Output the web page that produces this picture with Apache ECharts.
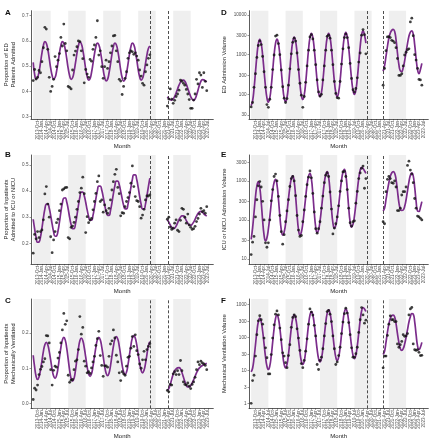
<!DOCTYPE html>
<html><head><meta charset="utf-8">
<script src="https://cdn.jsdelivr.net/npm/echarts@6/dist/echarts.min.js"></script>
<style>html,body{margin:0;padding:0;background:#fff}#c{width:433px;height:440px}</style>
</head><body><div id="c"></div>
<script>
// ---- x axis: month categories (index 0 = 2013-Jul) ----
const monthNames = ['Jan','Feb','Mar','Apr','May','Jun','Jul','Aug','Sep','Oct','Nov','Dec'];
const months = [];
for (let y = 2013; y <= 2023; y++) for (let m = 0; m < 12; m++) { if (y === 2013 && m < 6) continue; months.push(y + '-' + monthNames[m]); }
const xTicks = []; for (let i = 0; i <= 123; i += 3) xTicks.push(i);
const seasonBands = [[0,12],[24,36],[48,60],[72,84],[96,108]];
const breakMonths = [80.6, 92.3];
const PRE_START = 0, POST_START = 92;

// ---- Panel A: proportion of ED patients admitted ----
const A_fit_pre = [0.515,0.468,0.450,0.455,0.478,0.513,0.552,0.582,0.597,0.591,0.567,0.531,
0.492,0.463,0.449,0.455,0.479,0.514,0.552,0.582,0.597,0.590,0.566,0.530,
0.491,0.462,0.448,0.454,0.478,0.513,0.551,0.581,0.596,0.589,0.565,0.529,
0.489,0.459,0.445,0.451,0.475,0.510,0.548,0.577,0.591,0.585,0.561,0.526,
0.486,0.456,0.442,0.448,0.473,0.508,0.547,0.577,0.591,0.585,0.561,0.525,
0.485,0.455,0.441,0.448,0.473,0.508,0.547,0.577,0.591,0.585,0.561,0.526,
0.487,0.458,0.445,0.452,0.476,0.510,0.545,0.570,0.580];
const A_fit_post = [0.379,0.372,0.367,0.366,0.370,0.380,0.394,0.410,0.425,0.437,0.444,0.445,0.440,0.428,0.412,0.395,0.380,0.369,0.365,0.370,0.385,0.405,0.425,0.440,0.447,0.446,0.442,0.438];
const A_pts_pre = [0.443,0.487,0.449,0.456,0.483,0.474,0.518,0.573,0.654,0.647,0.567,0.456,
0.400,0.420,0.448,0.538,0.498,0.524,0.550,0.614,0.580,0.667,0.590,0.561,
0.420,0.416,0.410,0.485,0.544,0.560,0.577,0.600,0.597,0.561,0.530,0.434,
0.487,0.469,0.456,0.527,0.520,0.567,0.584,0.614,0.680,0.544,0.561,0.498,
0.452,0.498,0.524,0.491,0.518,0.553,0.580,0.620,0.622,0.561,0.518,0.448,
0.441,0.388,0.420,0.452,0.478,0.531,0.553,0.561,0.557,0.547,0.553,0.540,
0.524,0.485,0.461,0.432,0.425,0.478,0.505,0.531,0.545];
const A_pts_post = [0.342,0.370,0.410,0.370,0.353,0.365,0.380,0.390,0.405,0.445,0.440,0.432,0.425,0.408,0.390,0.368,0.333,0.333,0.366,0.390,0.448,0.430,0.474,0.465,0.416,0.474,0.440,0.403];

// ---- Panel B: proportion admitted to ICU or NICU ----
const B_fit_pre = [0.292,0.255,0.223,0.204,0.205,0.224,0.258,0.297,0.331,0.350,0.351,0.334,
0.306,0.273,0.244,0.227,0.228,0.247,0.281,0.320,0.354,0.373,0.374,0.358,
0.331,0.299,0.272,0.256,0.256,0.275,0.307,0.344,0.377,0.396,0.396,0.382,
0.357,0.328,0.303,0.289,0.289,0.307,0.337,0.371,0.401,0.419,0.419,0.404,
0.378,0.348,0.322,0.307,0.307,0.325,0.355,0.390,0.420,0.438,0.438,0.424,
0.399,0.371,0.346,0.332,0.332,0.350,0.380,0.414,0.444,0.462,0.462,0.444,
0.414,0.380,0.350,0.332,0.332,0.350,0.382,0.417,0.449];
const B_fit_post = [0.290,0.281,0.270,0.261,0.256,0.258,0.266,0.278,0.291,0.300,0.305,0.305,0.298,0.287,0.277,0.270,0.269,0.273,0.281,0.292,0.304,0.314,0.320,0.322,0.319,0.313,0.308,0.304];
const B_pts_pre = [0.162,0.234,0.217,0.245,0.222,0.245,0.251,0.290,0.389,0.417,0.350,0.300,
0.225,0.164,0.213,0.245,0.279,0.292,0.325,0.350,0.404,0.408,0.413,0.414,
0.222,0.217,0.261,0.266,0.280,0.300,0.330,0.360,0.394,0.411,0.453,0.390,
0.241,0.302,0.279,0.289,0.295,0.328,0.360,0.391,0.436,0.458,0.360,0.366,
0.319,0.347,0.325,0.315,0.334,0.366,0.404,0.436,0.464,0.483,0.414,0.390,
0.305,0.317,0.315,0.340,0.360,0.375,0.394,0.430,0.496,0.417,0.379,0.363,
0.360,0.340,0.296,0.308,0.330,0.366,0.381,0.381,0.385];
const B_pts_post = [0.292,0.300,0.262,0.253,0.258,0.277,0.290,0.250,0.245,0.288,0.334,0.330,0.300,0.277,0.312,0.270,0.261,0.253,0.256,0.265,0.283,0.295,0.312,0.334,0.321,0.325,0.315,0.340];

// ---- Panel C: proportion mechanically ventilated ----
const C_fit_pre = [0.137,0.103,0.077,0.068,0.075,0.095,0.121,0.148,0.167,0.174,0.167,0.148,
0.123,0.097,0.078,0.071,0.079,0.100,0.130,0.159,0.180,0.188,0.180,0.157,
0.126,0.094,0.071,0.063,0.071,0.094,0.125,0.155,0.178,0.186,0.179,0.159,
0.132,0.104,0.084,0.077,0.084,0.105,0.133,0.160,0.181,0.188,0.181,0.161,
0.134,0.106,0.086,0.079,0.086,0.107,0.135,0.162,0.183,0.190,0.183,0.163,
0.136,0.109,0.089,0.082,0.089,0.110,0.138,0.165,0.186,0.193,0.186,0.167,
0.140,0.114,0.094,0.087,0.094,0.113,0.139,0.164,0.176];
const C_fit_post = [0.037,0.042,0.054,0.069,0.083,0.093,0.098,0.101,0.102,0.098,0.088,0.075,0.062,0.052,0.047,0.047,0.051,0.058,0.067,0.077,0.087,0.095,0.101,0.105,0.108,0.110,0.112,0.114];
const C_pts_pre = [0.011,0.043,0.038,0.052,0.082,0.097,0.105,0.118,0.127,0.193,0.192,0.172,
0.096,0.052,0.094,0.106,0.103,0.129,0.145,0.172,0.209,0.256,0.225,0.235,
0.080,0.060,0.066,0.068,0.096,0.120,0.124,0.153,0.247,0.197,0.216,0.120,
0.106,0.087,0.090,0.085,0.101,0.118,0.134,0.165,0.184,0.205,0.136,0.108,
0.077,0.107,0.107,0.103,0.134,0.169,0.178,0.209,0.186,0.137,0.118,0.087,
0.065,0.090,0.084,0.080,0.106,0.131,0.134,0.157,0.190,0.162,0.195,0.150,
0.139,0.112,0.100,0.124,0.148,0.124,0.153,0.162,0.170];
const C_pts_post = [0.037,0.033,0.054,0.052,0.084,0.090,0.082,0.093,0.082,0.122,0.093,0.061,0.054,0.052,0.058,0.049,0.042,0.054,0.061,0.074,0.096,0.118,0.110,0.120,0.115,0.112,0.108,0.096];

// ---- Panel D: ED admission volume ----
const D_fit_pre = [52,68,137,357,931,1875,2427,1901,975,392,157,81,
63,81,158,394,984,1923,2455,1923,989,398,160,82,
65,83,165,422,1079,2143,2754,2163,1117,452,183,94,
74,96,194,507,1327,2679,3467,2710,1380,550,219,111,
87,111,219,550,1380,2710,3467,2710,1380,550,219,111,
87,112,221,562,1429,2825,3631,2851,1479,603,245,127,
100,128,251,631,1585,3112,3981,3162,1950];
const D_fit_post = [380,520,900,1600,2600,3500,4100,4350,3900,2400,1100,560,390,380,470,700,1150,1900,2900,3700,4000,3300,1800,800,420,330,420,600];
const D_pts_pre = [48,62,150,330,850,1700,2200,1800,900,370,150,55,
47,75,150,420,980,2950,3100,1900,1000,410,155,80,
62,78,170,440,1050,2050,2600,2200,1100,420,190,95,
47,88,200,520,1300,2800,3200,2500,1300,560,230,115,
90,100,230,520,1300,2900,3100,2600,1300,560,210,105,
82,80,210,580,1400,2700,3300,2700,1500,600,250,130,
115,140,260,650,1100,3100,4300,3200,1050];
const D_pts_post = [170,450,1260,2800,2850,2700,2300,2200,2000,1500,800,300,300,330,520,980,1150,1330,1400,6700,8300,3000,1000,730,450,237,230,170];

// ---- Panel E: ICU or NICU admission volume ----
const E_fit_pre = [32,62,155,385,750,957,687,288,98,41,29,35,
58,120,268,556,914,1096,804,353,128,56,41,49,
79,160,345,697,1125,1340,962,403,137,57,41,49,
81,169,380,791,1306,1567,1122,468,158,66,47,56,
93,191,427,879,1445,1730,1259,546,193,84,61,73,
117,237,512,1033,1667,1986,1435,610,210,89,65,77,
126,256,562,1148,1871,2233,2089,1820,1567];
const E_fit_post = [170,200,330,560,900,1300,1600,1730,1600,1100,560,280,190,175,180,220,330,560,950,1400,1620,1350,700,300,170,165,210,295];
const E_pts_pre = [13,27,38,120,330,750,960,700,300,100,26,20,
26,100,310,600,1300,1500,1000,400,130,50,24,42,
90,170,330,720,1150,1300,1000,420,130,55,38,40,
90,180,400,800,1250,1800,1200,480,160,60,46,60,
90,200,410,900,1400,1600,1300,520,190,44,62,80,
120,230,540,1000,1700,1750,1300,600,200,85,70,90,
95,270,540,1150,1600,2100,2400,650,1150];
const E_pts_post = [90,80,530,1100,1300,1150,900,870,1000,700,174,174,200,436,530,530,700,2500,3200,1900,1500,900,355,200,126,120,110,100];

// ---- Panel F: mechanical ventilation volume ----
const F_fit_pre = [9,11.6,22.9,58.5,149,295,379,299,155,63.4,25.9,13.4,
10.6,13.6,27.4,71.1,184,370,478,372,190,75.3,29.9,15.2,
11.9,15.2,29.9,75.3,190,372,478,378,201,84.5,35.6,18.9,
15,19.1,37.7,94.8,239,470,601,475,250,104,43.3,22.7,
18,23,44.6,110,273,531,676,533,279,116,47.8,25,
19.7,25.1,48.5,120,294,569,724,574,305,128,53.8,28.6,
22.6,28.8,55.1,134,327,625,794,724,603];
const F_fit_post = [30,38,70,140,250,370,450,470,420,260,130,70,45,40,45,62,100,170,290,420,520,500,300,120,55,42,50,70];
const F_pts_pre = [1.0,4.9,7.1,27,120,315,450,340,250,95,48,24,
7.8,7.8,30,95,239,500,631,477,190,85,34,27,
17,12,28,60,200,400,480,420,180,95,40,16,
12,20,38,90,250,724,580,470,230,110,15,10.6,
20,25,45,110,260,600,650,500,300,110,45,15,
18,28,50,130,290,520,760,540,280,120,48,25,
25,32,50,140,340,794,477,268,330];
const F_pts_post = [11.9,27,27,114,250,447,340,340,300,300,63,50,60,75,120,107,110,130,477,724,800,63,42,40,42,35,28,28.5];

// ---- tick labels ----
const A_ticks = [0.3,0.4,0.5,0.6,0.7];
const B_ticks = [0.2,0.3,0.4,0.5];
const C_ticks = [0.0,0.1,0.2];
const D_ticks = [30,100,300,1000,3000,10000];
const E_ticks = [10,30,100,300,1000,3000];
const F_ticks = [1,3,10,30,100,300,1000];

const FONT = 'Liberation Sans';
const PURPLE = '#7B2C8B';
const dec1 = v => Number(v).toFixed(1);
const plain = v => String(Math.round(v));

const panels = [
 {L:'A', name:'Proportion of ED\nPatients Admitted', log:false, min:0.2909, max:0.7198, ticks:A_ticks, fmt:dec1,
  fp:A_fit_pre, fq:A_fit_post, pp:A_pts_pre, pq:A_pts_post, g:{left:31,top:10.7,width:182.3,height:108.3}, gap:15, lx:5, ly:9},
 {L:'B', name:'Proportion of Inpatients\nAdmitted to ICU or NICU', log:false, min:0.1207, max:0.538, ticks:B_ticks, fmt:dec1,
  fp:B_fit_pre, fq:B_fit_post, pp:B_pts_pre, pq:B_pts_post, g:{left:31,top:155,width:182.3,height:109}, gap:15, lx:5, ly:151},
 {L:'C', name:'Proportion of Inpatients\nMechanically Ventilated', log:false, min:-0.0141, max:0.297, ticks:C_ticks, fmt:dec1,
  fp:C_fit_pre, fq:C_fit_post, pp:C_pts_pre, pq:C_pts_post, g:{left:31,top:299,width:182.3,height:110}, gap:15, lx:5, ly:297},
 {L:'D', name:'ED Admission Volume', log:true, min:23.8, max:12850, ticks:D_ticks, fmt:plain,
  fp:D_fit_pre, fq:D_fit_post, pp:D_pts_pre, pq:D_pts_post, g:{left:249,top:10.7,width:179.3,height:108.3}, gap:22, lx:221, ly:9},
 {L:'E', name:'ICU or NICU Admission Volume', log:true, min:7.45, max:4616, ticks:E_ticks, fmt:plain,
  fp:E_fit_pre, fq:E_fit_post, pp:E_pts_pre, pq:E_pts_post, g:{left:249,top:155,width:179.3,height:109}, gap:22, lx:221, ly:151},
 {L:'F', name:'Mechanical Ventilation Volume', log:true, min:0.707, max:1444, ticks:F_ticks, fmt:plain,
  fp:F_fit_pre, fq:F_fit_post, pp:F_pts_pre, pq:F_pts_post, g:{left:249,top:299,width:179.3,height:110}, gap:22, lx:221, ly:297}
];

const pairs = (arr, start) => arr.map((v, i) => [start + i, v]);
const axisLine = {show:true, onZero:false, lineStyle:{color:'#333', width:0.8}};

const option = {
  animation:false,
  backgroundColor:'#fff',
  textStyle:{fontFamily:FONT},
  grid: panels.map(p => Object.assign({containLabel:false}, p.g)),
  xAxis: panels.map((p, i) => ({
    gridIndex:i, type:'value', min:-1.5, max:123.5,
    axisLine:axisLine,
    axisTick:{show:true, length:1.5, customValues:xTicks, lineStyle:{color:'#333', width:0.5}},
    axisLabel:{customValues:xTicks, formatter:v => months[Math.round(v)] || '', rotate:90, fontSize:4.5, color:'#555', margin:2, fontFamily:FONT},
    splitLine:{show:false},
    name:'Month', nameLocation:'middle', nameGap:24,
    nameTextStyle:{fontSize:6, color:'#222', fontFamily:FONT}
  })),
  yAxis: panels.map((p, i) => ({
    gridIndex:i, type:p.log ? 'log' : 'value', logBase:10, min:p.min, max:p.max,
    axisLine:axisLine,
    axisTick:{show:true, length:1.5, customValues:p.ticks, lineStyle:{color:'#333', width:0.5}},
    axisLabel:{customValues:p.ticks, formatter:p.fmt, fontSize:4.6, color:'#4d4d4d', margin:2.5, fontFamily:FONT},
    splitLine:{show:false},
    name:p.name, nameLocation:'middle', nameRotate:90, nameGap:p.gap,
    nameTextStyle:{fontSize:5.8, lineHeight:6.2, color:'#222', fontFamily:FONT, align:'center'}
  })),
  graphic: panels.map(p => ({type:'text', left:p.lx, top:p.ly,
    style:{text:p.L, font:'bold 8px ' + FONT, fill:'#111'}})),
  series: []
};

panels.forEach((p, i) => {
  option.series.push({
    type:'line', xAxisIndex:i, yAxisIndex:i, data:[], z:0, silent:true,
    markArea:{silent:true, itemStyle:{color:'#efefef'},
      data: seasonBands.map(b => [{xAxis:b[0]}, {xAxis:b[1]}])}
  });
  option.series.push({
    type:'line', xAxisIndex:i, yAxisIndex:i, data:[], z:1, silent:true,
    markLine:{silent:true, symbol:['none','none'], label:{show:false},
      lineStyle:{type:[3,2], color:'#222', width:0.8},
      data: breakMonths.map(x => ({xAxis:x}))}
  });
  [[p.fp, PRE_START], [p.fq, POST_START]].forEach(([arr, s]) => option.series.push({
    type:'line', xAxisIndex:i, yAxisIndex:i, data:pairs(arr, s), smooth:0.5, showSymbol:false, z:2,
    lineStyle:{color:PURPLE, width:1.7}
  }));
  [[p.pp, PRE_START], [p.pq, POST_START]].forEach(([arr, s]) => option.series.push({
    type:'scatter', xAxisIndex:i, yAxisIndex:i, data:pairs(arr, s), symbolSize:2.8, z:3,
    itemStyle:{color:'#111'}
  }));
});

const chart = echarts.init(document.getElementById('c'), null, {renderer:'canvas'});
chart.setOption(option);
</script>
</body></html>
